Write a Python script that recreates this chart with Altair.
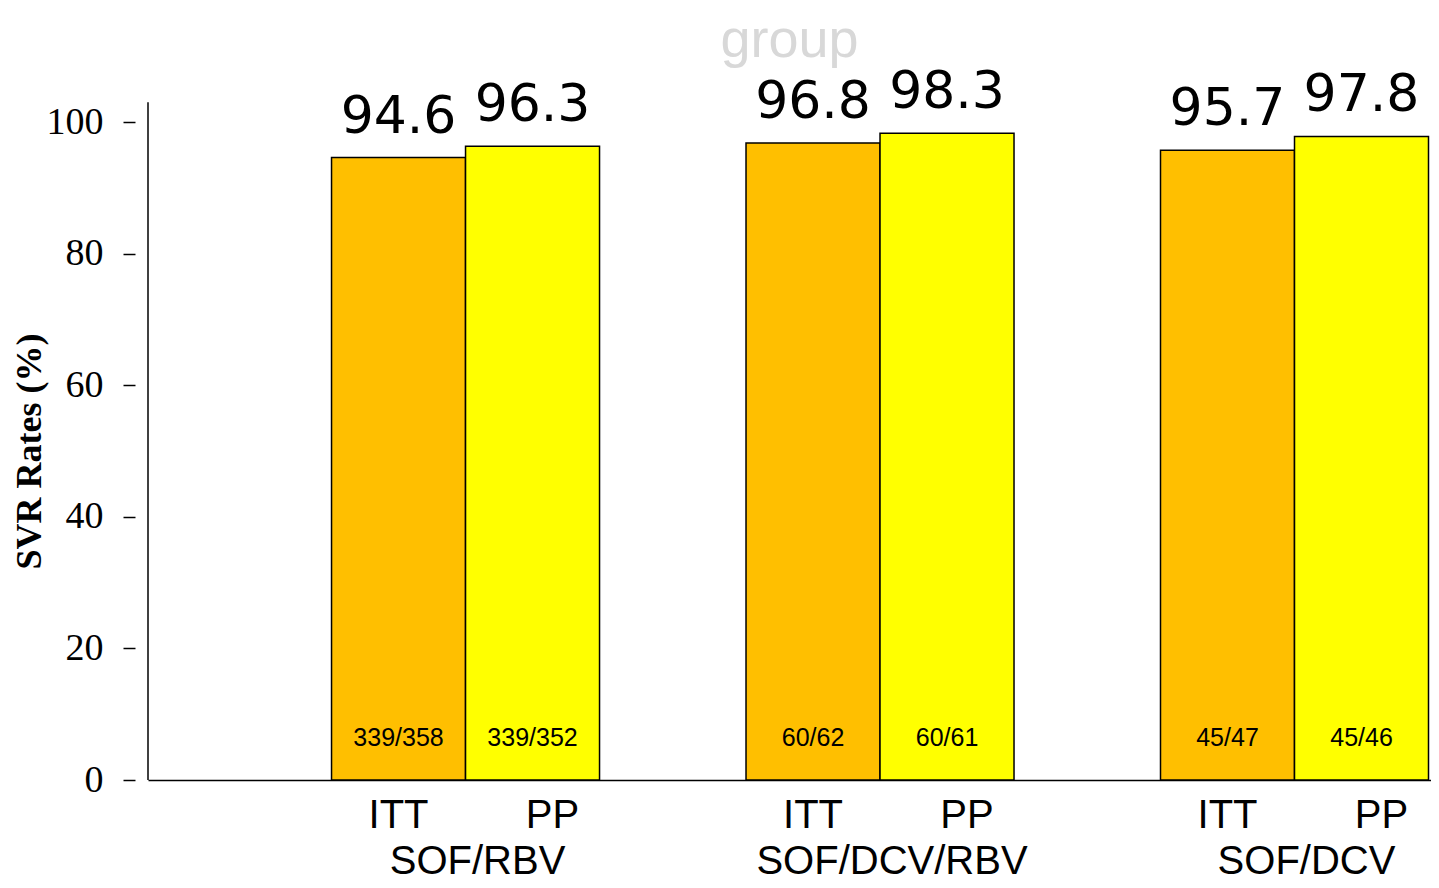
import altair as alt
import pandas as pd

groups = ["SOF/RBV", "SOF/DCV/RBV", "SOF/DCV"]
analyses = ["ITT", "PP"]
group_col = ["SOF/RBV", "SOF/RBV", "SOF/DCV/RBV", "SOF/DCV/RBV", "SOF/DCV", "SOF/DCV"]
analysis_col = ["ITT", "PP", "ITT", "PP", "ITT", "PP"]
svr = [94.6, 96.3, 96.8, 98.3, 95.7, 97.8]
fractions = ["339/358", "339/352", "60/62", "60/61", "45/47", "45/46"]
y_ticks = [0, 20, 40, 60, 80, 100]

df = pd.DataFrame({
    "group": group_col,
    "analysis": analysis_col,
    "svr": svr,
    "frac": fractions,
    "label": [f"{v:.1f}" for v in svr],
})
gdf = pd.DataFrame({"group": groups})

W, H = 1283, 658

x = alt.X("group:N", sort=groups,
          scale=alt.Scale(domain=groups, paddingInner=0.3534, paddingOuter=0.2244, align=0.9866),
          axis=alt.Axis(title=None, labels=False, ticks=False, domain=True,
                        domainColor="black", domainWidth=1.5, grid=False))
xo = alt.XOffset("analysis:N", sort=analyses,
                 scale=alt.Scale(domain=analyses, paddingInner=0, paddingOuter=0))
color = alt.Color("analysis:N", scale=alt.Scale(domain=analyses, range=["#FFBF00", "#FFFF00"]), legend=None)

base = alt.Chart(df)

bars = base.mark_bar(stroke="black", strokeWidth=1.5).encode(
    x=x, xOffset=xo,
    y=alt.Y("svr:Q", scale=alt.Scale(domain=[0, 100], nice=False),
            axis=alt.Axis(values=y_ticks, title="SVR Rates  (%)", titleFont="Liberation Serif",
                          titleFontSize=36, titleFontWeight="bold", titleColor="black",
                          labelFont="Liberation Serif", labelFontSize=38, labelColor="black",
                          domain=False, grid=False, offset=13, tickSize=12, tickColor="black",
                          tickWidth=1.5, labelPadding=20, titlePadding=-2)),
    color=color,
)

values = base.mark_text(font="DejaVu Sans", fontSize=52, baseline="bottom", dy=-14, color="black").encode(
    x=x, xOffset=xo, y=alt.Y("svr:Q"), text="label:N")

fracs = base.mark_text(font="Liberation Sans", fontSize=25, baseline="middle", dy=-42, color="black").encode(
    x=x, xOffset=xo, y=alt.datum(0), text="frac:N")

itt_labels = base.transform_filter(alt.datum.analysis == "ITT").mark_text(
    font="Liberation Sans", fontSize=40, baseline="middle", color="black", dx=0).encode(
    x=x, xOffset=xo, y=alt.value(H + 36), text="analysis:N")

pp_labels = base.transform_filter(alt.datum.analysis == "PP").mark_text(
    font="Liberation Sans", fontSize=40, baseline="middle", color="black", dx=20).encode(
    x=x, xOffset=xo, y=alt.value(H + 36), text="analysis:N")

grp_labels = alt.Chart(gdf).mark_text(font="Liberation Sans", fontSize=40, baseline="middle",
                                      color="black", dx=12).encode(
    x=alt.X("group:N", sort=groups), y=alt.value(H + 82), text="group:N")

yline = alt.Chart(gdf.head(1)).mark_rule(color="black", strokeWidth=1.5, clip=False).encode(
    x=alt.value(0), y=alt.datum(0), y2=alt.datum(103))

chart = alt.layer(bars, values, fracs, itt_labels, pp_labels, grp_labels, yline).properties(
    width=W, height=H,
    autosize=alt.AutoSizeParams(type="none"),
    padding={"left": 140, "top": 114, "right": 0, "bottom": 102},
    title=alt.Title("group", fontSize=54, color="#d8d8d8", font="Liberation Sans",
                    fontWeight="normal", anchor="middle", offset=-2),
).configure_view(stroke=None).configure_axis(grid=False)

chart.save("out.html", embed_options={"renderer": "svg", "actions": False})
